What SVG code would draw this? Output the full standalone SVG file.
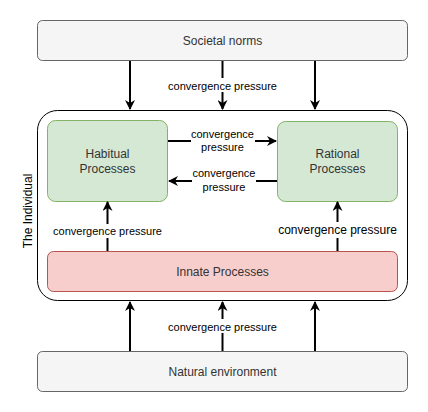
<svg xmlns="http://www.w3.org/2000/svg" width="428" height="412" viewBox="0 0 428 412">
<style>
.t{font-family:"Liberation Sans",Arial,sans-serif;font-size:12px;fill:#333;text-anchor:middle;dominant-baseline:central}
.l{font-family:"Liberation Sans",Arial,sans-serif;font-size:11px;fill:#000;text-anchor:middle;dominant-baseline:central}
.a{stroke:#000;stroke-width:2;fill:none;marker-end:url(#ah)}
.lb{fill:#fff}
</style>
<defs>
<marker id="ah" viewBox="0 0 10 10" refX="9" refY="5" markerWidth="5" markerHeight="5" markerUnits="strokeWidth" orient="auto">
<path d="M0,0 L10,5 L0,10 L3,5 Z" fill="#000"/>
</marker>
</defs>
<rect width="428" height="412" fill="#fff"/>
<g id="individual">
<rect x="37.5" y="110.5" width="370" height="190" rx="20" fill="#fff" stroke="#000"/>
<text class="t" transform="translate(28,211) rotate(-90)" style="fill:#000">The Individual</text>
</g>
<g id="societal">
<rect x="37.5" y="20.5" width="370" height="40" rx="5" fill="#f5f5f5" stroke="#666"/>
<text class="t" x="222.5" y="40.5">Societal norms</text>
</g>
<g id="natural">
<rect x="37.5" y="351.5" width="370" height="40" rx="5" fill="#f5f5f5" stroke="#666"/>
<text class="t" x="222.5" y="371.5">Natural environment</text>
</g>
<g id="habitual">
<rect x="47.5" y="120.5" width="120" height="81" rx="8" fill="#d5e8d4" stroke="#82b366"/>
<text class="t" x="107.5" y="154">Habitual</text>
<text class="t" x="107.5" y="169">Processes</text>
</g>
<g id="rational">
<rect x="277.5" y="121.5" width="120" height="80" rx="8" fill="#d5e8d4" stroke="#82b366"/>
<text class="t" x="337.5" y="154">Rational</text>
<text class="t" x="337.5" y="169">Processes</text>
</g>
<g id="innate">
<rect x="47.5" y="251.5" width="350" height="40" rx="6" fill="#f8cecc" stroke="#b85450"/>
<text class="t" x="222.5" y="271.5">Innate Processes</text>
</g>
<g id="connectors">
<path class="a" d="M130,61 V109"/>
<path class="a" d="M222.5,61 V109"/>
<path class="a" d="M315,61 V109"/>
<rect class="lb" x="167" y="78" width="111" height="14"/>
<text class="l" x="222.5" y="85.5">convergence pressure</text>

<path class="a" d="M130,351 V302"/>
<path class="a" d="M222.5,351 V302"/>
<path class="a" d="M315,351 V302"/>
<rect class="lb" x="167" y="319" width="111" height="14"/>
<text class="l" x="222.5" y="326.5">convergence pressure</text>

<path class="a" d="M168,141 H276"/>
<rect class="lb" x="191" y="127" width="64" height="27"/>
<text class="l" x="222.5" y="134">convergence</text>
<text class="l" x="222.5" y="147">pressure</text>

<path class="a" d="M277,181 H169"/>
<rect class="lb" x="192" y="166" width="64" height="27"/>
<text class="l" x="224" y="173">convergence</text>
<text class="l" x="224" y="187">pressure</text>

<path class="a" d="M107.5,251 V202"/>
<rect class="lb" x="52" y="224" width="111" height="14"/>
<text class="l" x="107.5" y="231">convergence pressure</text>

<path class="a" d="M337.5,251 V202"/>
<rect class="lb" x="277" y="222" width="121" height="16"/>
<text class="l" x="337.5" y="230" style="font-size:12px">convergence pressure</text>
</g>
</svg>
